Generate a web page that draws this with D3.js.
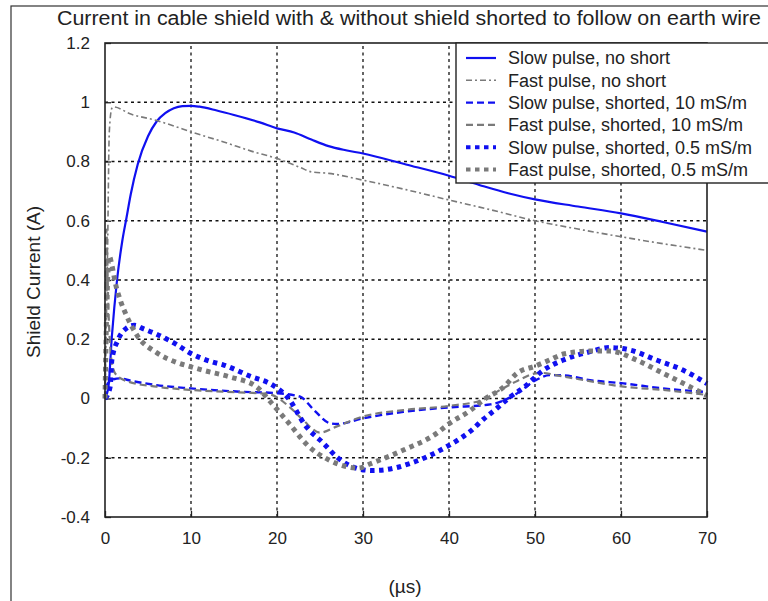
<!DOCTYPE html>
<html>
<head>
<meta charset="utf-8">
<script src="https://cdn.jsdelivr.net/npm/d3@7"></script>
<style>
  body { margin: 0; background: #fff; }
  svg { display: block; }
</style>
</head>
<body>
<div class="container"></div>
<script>
// values (time in µs, current in A)
const slowNoShort = [[0,0],[0.4,0.04],[0.8,0.21],[1.4,0.4],[2,0.53],[2.5,0.61],[3,0.69],[3.8,0.79],[5,0.885],[6,0.935],[7,0.963],[8,0.98],[9,0.987],[10,0.988],[11,0.985],[13,0.972],[15,0.957],[18,0.932],[20,0.912],[22,0.898],[24,0.874],[26,0.852],[28,0.838],[30,0.827],[35,0.79],[40,0.752],[43.6,0.72],[47,0.692],[50,0.672],[55,0.648],[60,0.625],[65,0.595],[70,0.563]];
const fastNoShort = [[0,0],[0.3,0.5],[0.5,0.9],[0.8,0.98],[1,0.984],[3,0.96],[5.8,0.94],[8,0.92],[10,0.9],[13.8,0.866],[17,0.835],[20,0.81],[22.7,0.78],[24,0.765],[26,0.76],[30,0.737],[35,0.705],[40,0.67],[45,0.636],[50,0.6],[55,0.572],[60,0.546],[65,0.522],[70,0.5]];
const slowShort10 = [[0,0],[0.3,0.05],[1,0.065],[1.7,0.068],[3,0.06],[6,0.045],[10,0.034],[15.7,0.023],[20,0.018],[22.7,0.006],[24.3,-0.039],[26.2,-0.084],[27,-0.086],[30,-0.067],[34.7,-0.045],[40,-0.03],[44.8,-0.02],[47.9,0.017],[50.1,0.062],[51.7,0.079],[53.3,0.078],[56.4,0.062],[60.3,0.051],[64.9,0.034],[70,0.022]];
const fastShort10 = [[0,0],[0.15,0.57],[0.4,0.3],[0.8,0.12],[1.3,0.08],[2.7,0.057],[6,0.04],[10,0.029],[13.8,0.023],[19,0.015],[21.4,-0.027],[23,-0.072],[25,-0.115],[26.9,-0.095],[30,-0.061],[34.7,-0.039],[40,-0.025],[43.9,-0.005],[46,0.03],[48,0.06],[50.1,0.085],[51,0.086],[52.4,0.079],[55.7,0.062],[60.3,0.04],[64.9,0.029],[70,0.012]];
const slowShort05 = [[0,0],[0.6,0.04],[0.8,0.13],[1.5,0.197],[2.5,0.237],[3.4,0.247],[4.5,0.235],[6,0.217],[8.1,0.186],[10,0.152],[12.4,0.124],[13.8,0.113],[16.9,0.075],[19.5,0.045],[21.2,0.005],[23.4,-0.095],[25.4,-0.151],[26.9,-0.196],[29.3,-0.236],[31,-0.243],[32.4,-0.241],[35.5,-0.219],[39.4,-0.168],[41.3,-0.135],[42.5,-0.11],[44,-0.07],[45.5,-0.035],[47.1,0.005],[48.6,0.035],[51,0.096],[53.3,0.13],[56.4,0.158],[58.7,0.172],[61,0.164],[64.1,0.13],[67.2,0.096],[70,0.05]];
const fastShort05 = [[0,0],[0.2,0.3],[0.5,0.48],[0.8,0.45],[1.2,0.39],[1.8,0.33],[2.5,0.28],[3.8,0.21],[6,0.155],[8.5,0.12],[10,0.107],[11.6,0.094],[14.5,0.073],[17.6,0.04],[19.2,-0.01],[20.4,-0.05],[21.4,-0.084],[23.7,-0.162],[26,-0.207],[28.4,-0.232],[29.5,-0.235],[30.7,-0.222],[34.7,-0.174],[38.6,-0.117],[40,-0.085],[42.5,-0.04],[44,-0.005],[46.4,0.04],[47.9,0.085],[50.1,0.11],[51.7,0.13],[53.3,0.15],[56.4,0.16],[58.7,0.16],[61.8,0.13],[64.9,0.085],[68,0.04],[70,0.01]];

const seriesNames = [
  "Slow pulse, no short",
  "Fast pulse, no short",
  "Slow pulse, shorted, 10 mS/m",
  "Fast pulse, shorted, 10 mS/m",
  "Slow pulse, shorted, 0.5 mS/m",
  "Fast pulse, shorted, 0.5 mS/m"
];
const seriesData = [slowNoShort, fastNoShort, slowShort10, fastShort10, slowShort05, fastShort05];
const xTicks = [0, 10, 20, 30, 40, 50, 60, 70];
const yTicks = [-0.4, -0.2, 0, 0.2, 0.4, 0.6, 0.8, 1, 1.2];

const blue = "#1010f0", grey = "#7a7a7a";
const styles = [
  { color: blue, width: 2.2, dash: null },
  { color: grey, width: 1.6, dash: "6,3,2,3" },
  { color: blue, width: 2.4, dash: "7,4" },
  { color: grey, width: 2.2, dash: "7,4" },
  { color: blue, width: 5, dash: "4.5,4.5" },
  { color: grey, width: 5, dash: "4.5,4.5" }
];

const width = 768, height = 601;
const margin = { left: 105, right: 61, top: 43, bottom: 84 };
const font = "'Liberation Sans', Arial, sans-serif";

const svg = d3.select(".container").append("svg")
  .attr("width", width).attr("height", height)
  .attr("font-family", font);

// figure frame
svg.append("rect")
  .attr("x", 11).attr("y", 6).attr("width", 800).attr("height", 700)
  .attr("fill", "none").attr("stroke", "#333").attr("stroke-width", 1.2);

const x = d3.scaleLinear().domain([0, 70]).range([margin.left, width - margin.right]);
const y = d3.scaleLinear().domain([-0.4, 1.2]).range([height - margin.bottom, margin.top]);

// grid
svg.append("g").selectAll("line").data(xTicks.slice(1, -1)).join("line")
  .attr("x1", d => x(d)).attr("x2", d => x(d))
  .attr("y1", y(-0.4)).attr("y2", y(1.2))
  .attr("stroke", "#111").attr("stroke-width", 1.3).attr("stroke-dasharray", "3,3.5");
svg.append("g").selectAll("line").data(yTicks.slice(1, -1)).join("line")
  .attr("x1", x(0)).attr("x2", x(70))
  .attr("y1", d => y(d)).attr("y2", d => y(d))
  .attr("stroke", "#111").attr("stroke-width", 1.3).attr("stroke-dasharray", "3,3.5");

// axes
const xAxis = svg.append("g")
  .attr("transform", `translate(0,${y(-0.4)})`)
  .call(d3.axisBottom(x).tickValues(xTicks).tickSize(-6).tickPadding(15).tickFormat(d3.format("d")));
const yAxis = svg.append("g")
  .attr("transform", `translate(${x(0)},0)`)
  .call(d3.axisLeft(y).tickValues(yTicks).tickSize(-6).tickPadding(15).tickFormat(d => String(d)));
[xAxis, yAxis].forEach(a => {
  a.select(".domain").remove();
  a.selectAll(".tick line").attr("stroke", "#222").attr("stroke-width", 1.3);
  a.selectAll("text").attr("font-size", 17).attr("font-family", font).attr("fill", "#222");
});

// curves
const line = d3.line().x(d => x(d[0])).y(d => y(d[1])).curve(d3.curveMonotoneX);
svg.append("g").selectAll("path").data(seriesData).join("path")
  .attr("d", line)
  .attr("fill", "none")
  .attr("stroke", (d, i) => styles[i].color)
  .attr("stroke-width", (d, i) => styles[i].width)
  .attr("stroke-dasharray", (d, i) => styles[i].dash);

// plot box
svg.append("rect")
  .attr("x", x(0)).attr("y", y(1.2))
  .attr("width", x(70) - x(0)).attr("height", y(-0.4) - y(1.2))
  .attr("fill", "none").attr("stroke", "#222").attr("stroke-width", 1.6);

// legend
const lg = svg.append("g").attr("transform", "translate(456,43)");
lg.append("rect").attr("width", 320).attr("height", 140)
  .attr("fill", "#fff").attr("stroke", "#222").attr("stroke-width", 1.4);
const row = lg.selectAll("g.row").data(seriesNames).join("g")
  .attr("class", "row")
  .attr("transform", (d, i) => `translate(0,${15 + i * 22.3})`);
row.append("line")
  .attr("x1", 10).attr("x2", 40)
  .attr("stroke", (d, i) => styles[i].color)
  .attr("stroke-width", (d, i) => Math.min(styles[i].width, 4))
  .attr("stroke-dasharray", (d, i) => styles[i].dash);
row.append("text")
  .attr("x", 52).attr("dy", "0.35em")
  .attr("font-size", 18).attr("fill", "#222")
  .text(d => d);

// title and axis labels
svg.append("text")
  .attr("x", 409).attr("y", 25).attr("text-anchor", "middle")
  .attr("font-size", 20).attr("fill", "#222")
  .attr("textLength", 704).attr("lengthAdjust", "spacingAndGlyphs")
  .text("Current in cable shield with & without shield shorted to follow on earth wire");
svg.append("text")
  .attr("transform", "translate(40,282) rotate(-90)")
  .attr("text-anchor", "middle").attr("font-size", 19).attr("fill", "#222")
  .text("Shield Current (A)");
svg.append("text")
  .attr("x", 405).attr("y", 593).attr("text-anchor", "middle")
  .attr("font-size", 19).attr("fill", "#222")
  .text("(µs)");
</script>
</body>
</html>
